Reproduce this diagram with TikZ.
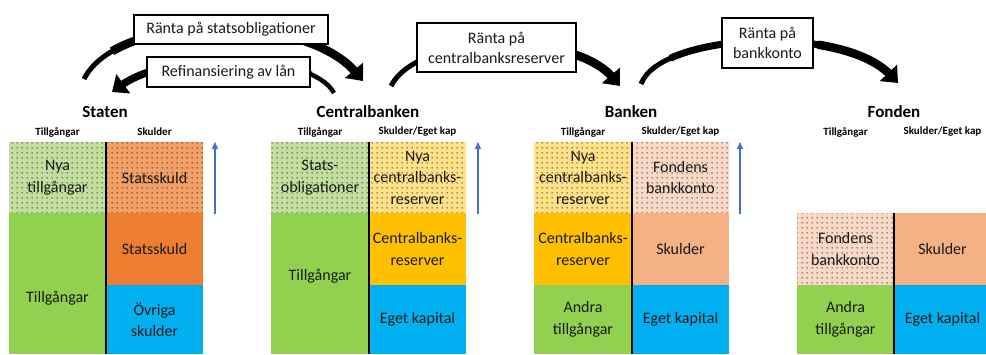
\documentclass[tikz,border=0pt]{standalone}
\usepackage{fontspec}
\setmainfont{Carlito}
\usetikzlibrary{arrows.meta,patterns.meta}

\definecolor{cgreen}{HTML}{92D050}
\definecolor{cgreenl}{HTML}{C2DFA0}
\definecolor{corange}{HTML}{ED7D31}
\definecolor{corangel}{HTML}{F3A066}
\definecolor{cblue}{HTML}{00B0F0}
\definecolor{cgold}{HTML}{FFC000}
\definecolor{cgoldl}{HTML}{FFE187}
\definecolor{csalmon}{HTML}{F4B183}
\definecolor{cpink}{HTML}{F9D9C6}
\definecolor{cuparrow}{HTML}{4472C4}
\definecolor{ctext}{HTML}{1A1A1A}

\tikzdeclarepattern{
  name=celldots,
  type=uncolored,
  bounding box={(0pt,0pt) and (5pt,5pt)},
  tile size={(5pt,5pt)},
  code={\fill (2.5pt,2.5pt) circle (0.75pt);}
}

\begin{document}
\begin{tikzpicture}[x=1pt,y=-1pt,
  cell/.style={draw=none, inner sep=0pt, align=center, text=ctext,
    font=\fontsize{16}{21.5}\selectfont, minimum width=#1},
  cell/.default=97pt,
  dotted cell/.style={postaction={pattern=celldots, pattern color=black}},
  txt/.style={inner sep=0pt, align=center, text=ctext, font=\fontsize{16}{21.5}\selectfont},
  lbl/.style={draw=black, line width=1.3pt, fill=white, align=center, inner sep=0pt,
    text=ctext, font=\fontsize{16}{20}\selectfont},
  ttl/.style={inner sep=0pt, font=\fontsize{17}{20}\selectfont\bfseries},
  hdr/.style={inner sep=0pt, font=\fontsize{11}{13}\selectfont\bfseries},
  divider/.style={line width=2pt, black},
  uparrow/.style={line width=1.1pt, cuparrow, -{Triangle[length=7pt,width=6pt]}},
  bigarrow/.style={line width=#1, black, -{Triangle[length=14pt,width=23pt]}},
  bigarrow/.default=5pt,
  thickpart/.style={line width=#1, black, shorten >=11pt},
  thickpart/.default=8.5pt
]
\useasboundingbox (0,0) rectangle (986,354);
\clip (0,0) rectangle (986,354);

% ---------- big curved arrows (behind the label boxes) ----------
\coordinate (a1s) at (84,79);  \coordinate (a1e) at (363,81);
\coordinate (a2s) at (334,93); \coordinate (a2e) at (112,92);
\coordinate (a3s) at (391,86); \coordinate (a3e) at (620,86);
\coordinate (a4s) at (641,84); \coordinate (a4e) at (898,83);

\draw[bigarrow] (a1s) .. controls (118,12) and (305,12) .. (a1e);
\draw[thickpart, dash pattern=on 0pt off 40pt on 600pt] (a1s) .. controls (118,12) and (305,12) .. (a1e);
\draw[thickpart=7pt, dash pattern=on 0pt off 200pt on 600pt] (a1s) .. controls (118,12) and (305,12) .. (a1e);

\draw[bigarrow=4.5pt] (a2s) .. controls (312,52) and (170,50) .. (a2e);
\draw[thickpart=6pt, dash pattern=on 0pt off 30pt on 600pt] (a2s) .. controls (312,52) and (170,50) .. (a2e);
\draw[thickpart=7.5pt, dash pattern=on 0pt off 170pt on 600pt] (a2s) .. controls (312,52) and (170,50) .. (a2e);

\draw[bigarrow] (a3s) .. controls (418,33) and (572,30) .. (a3e);
\draw[thickpart=7pt, dash pattern=on 0pt off 40pt on 600pt] (a3s) .. controls (418,33) and (572,30) .. (a3e);
\draw[thickpart, dash pattern=on 0pt off 170pt on 600pt] (a3s) .. controls (418,33) and (572,30) .. (a3e);

\draw[bigarrow] (a4s) .. controls (660,33) and (842,24) .. (a4e);
\draw[thickpart=7pt, dash pattern=on 0pt off 40pt on 600pt] (a4s) .. controls (660,33) and (842,24) .. (a4e);
\draw[thickpart, dash pattern=on 0pt off 190pt on 600pt] (a4s) .. controls (660,33) and (842,24) .. (a4e);

% ---------- label boxes ----------
\node[lbl, minimum width=194pt, minimum height=29pt] (l1) at (231,29.5) {Ränta på statsobligationer};
\node[lbl, minimum width=163pt, minimum height=30pt] (l2) at (228.5,72) {Refinansiering av lån};
\node[lbl, minimum width=159pt, minimum height=49pt] (l3) at (496.5,47.5) {Ränta på\\centralbanksreserver};
\node[lbl, minimum width=91pt, minimum height=50pt] (l4) at (767.5,43) {Ränta på\\bankkonto};

% ---------- titles and headers ----------
\node[ttl] (tS) at (105,112) {Staten};
\node[ttl] (tC) at (368,112) {Centralbanken};
\node[ttl] (tB) at (631,112) {Banken};
\node[ttl] (tF) at (894,112) {Fonden};

\node[hdr] (hS1) at (57.5,132) {Tillgångar};
\node[hdr] (hS2) at (154.5,132) {Skulder};
\node[hdr] (hC1) at (320,132) {Tillgångar};
\node[hdr] (hC2) at (417.5,132) {Skulder/Eget kap};
\node[hdr] (hB1) at (583,132) {Tillgångar};
\node[hdr] (hB2) at (680.5,132) {Skulder/Eget kap};
\node[hdr] (hF1) at (845.5,132) {Tillgångar};
\node[hdr] (hF2) at (942.5,132) {Skulder/Eget kap};

% ---------- Staten ----------
\node[cell, dotted cell, fill=cgreenl, minimum height=71pt] (sNya) at (57.5,177.5) {Nya\\tillgångar};
\node[cell, dotted cell, fill=corangel, minimum height=71pt] (sSkD) at (154.5,177.5) {Statsskuld};
\node[cell, fill=cgreen, minimum height=141pt] (sTill) at (57.5,283.5) {};
\node[cell, fill=corange, minimum height=72pt] (sSk) at (154.5,249) {Statsskuld};
\node[cell, fill=cblue, minimum height=69pt] (sOvr) at (154.5,319.5) {Övriga\\skulder};
\node[txt] (sTillT) at (57.5,298) {Tillgångar};
\draw[divider] (sNya.north east) -- (sTill.south east);

% ---------- Centralbanken ----------
\node[cell=98pt, dotted cell, fill=cgreenl, minimum height=71pt] (cStats) at (320,177.5) {Stats-\\obligationer};
\node[cell, dotted cell, fill=cgoldl, minimum height=71pt] (cNya) at (417.5,177.5) {Nya\\centralbanks-\\reserver};
\node[cell=98pt, fill=cgreen, minimum height=141pt] (cTill) at (320,283.5) {};
\node[cell, fill=cgold, minimum height=72pt] (cCbr) at (417.5,249) {Centralbanks-\\reserver};
\node[cell, fill=cblue, minimum height=69pt] (cEget) at (417.5,319.5) {Eget kapital};
\node[txt] (cTillT) at (320,276) {Tillgångar};
\draw[divider] (cStats.north east) -- (cTill.south east);

% ---------- Banken ----------
\node[cell=98pt, dotted cell, fill=cgoldl, minimum height=71pt] (bNya) at (583,177.5) {Nya\\centralbanks-\\reserver};
\node[cell, dotted cell, fill=cpink, minimum height=71pt] (bFond) at (680.5,177.5) {Fondens\\bankkonto};
\node[cell=98pt, fill=cgold, minimum height=72pt] (bCbr) at (583,249) {Centralbanks-\\reserver};
\node[cell, fill=csalmon, minimum height=72pt] (bSk) at (680.5,249) {Skulder};
\node[cell=98pt, fill=cgreen, minimum height=69pt] (bAndra) at (583,319.5) {Andra\\tillgångar};
\node[cell, fill=cblue, minimum height=69pt] (bEget) at (680.5,319.5) {Eget kapital};
\draw[divider] (bNya.north east) -- (bAndra.south east);

% ---------- Fonden ----------
\node[cell, dotted cell, fill=cpink, minimum height=72pt] (fFond) at (845.5,249) {Fondens\\bankkonto};
\node[cell, fill=csalmon, minimum height=72pt] (fSk) at (942.5,249) {Skulder};
\node[cell, fill=cgreen, minimum height=69pt] (fAndra) at (845.5,319.5) {Andra\\tillgångar};
\node[cell, fill=cblue, minimum height=69pt] (fEget) at (942.5,319.5) {Eget kapital};
\draw[divider] (fFond.north east) -- (fAndra.south east);

% ---------- growth arrows ----------
\coordinate (uS1) at (215,214); \coordinate (uS2) at (215,142);
\coordinate (uC1) at (478,214); \coordinate (uC2) at (478,142);
\coordinate (uB1) at (740,214); \coordinate (uB2) at (740,142);
\draw[uparrow] (uS1) -- (uS2);
\draw[uparrow] (uC1) -- (uC2);
\draw[uparrow] (uB1) -- (uB2);
\end{tikzpicture}
\end{document}
